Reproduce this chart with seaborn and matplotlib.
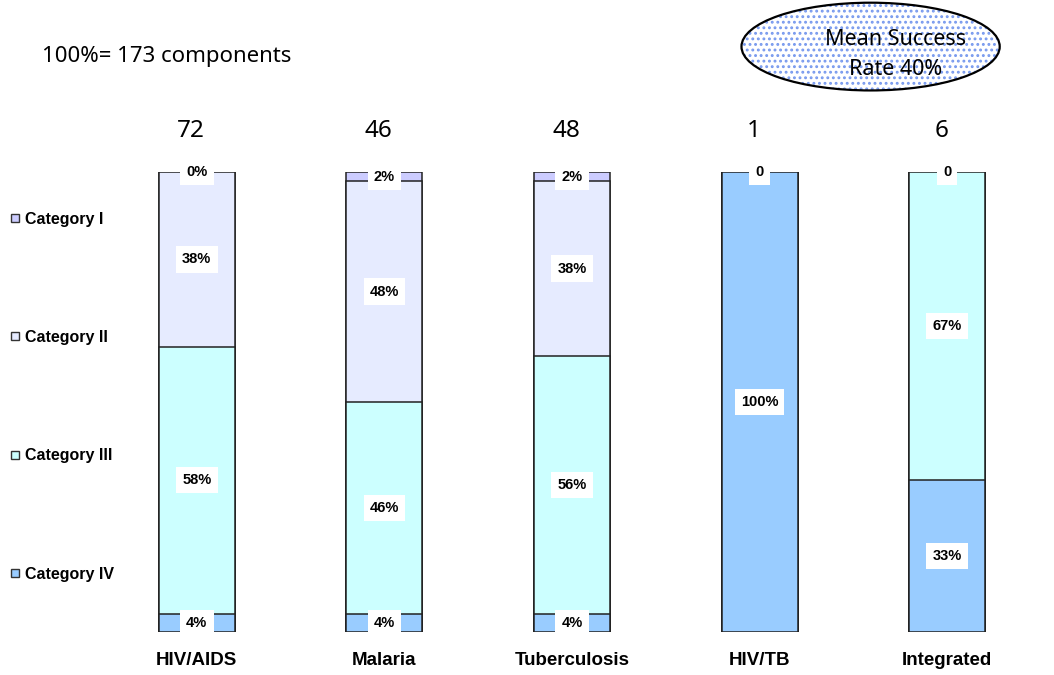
import matplotlib
matplotlib.use("Agg")
import matplotlib.pyplot as plt
from matplotlib.patches import Ellipse
from matplotlib.lines import Line2D
import numpy as np
import pandas as pd
import seaborn as sns

programs = ["HIV/AIDS", "Malaria", "Tuberculosis", "HIV/TB", "Integrated"]
counts = [72, 46, 48, 1, 6]
categories = ["Category I", "Category II", "Category III", "Category IV"]

# percent share of each category per program
cat_i = [0, 2, 2, 0, 0]
cat_ii = [38, 48, 38, 0, 0]
cat_iii = [58, 46, 56, 0, 67]
cat_iv = [4, 4, 4, 100, 33]

# text shown on each segment ('' = no label)
lab_i = ["0%", "2%", "2%", "0", "0"]
lab_ii = ["38%", "48%", "38%", "", ""]
lab_iii = ["58%", "46%", "56%", "", "67%"]
lab_iv = ["4%", "4%", "4%", "100%", "33%"]

colors = ["#CCCCFF", "#E6EBFF", "#CCFFFF", "#99CCFF"]

total_components = 173
mean_success = 40

sns.set_theme(style="white")
plt.rcParams["font.family"] = ["Liberation Sans", "DejaVu Sans"]
plt.rcParams["text.color"] = "black"
plt.rcParams["xtick.color"] = "black"
plt.rcParams["hatch.linewidth"] = 1.3

fig = plt.figure(figsize=(10.54, 6.75), dpi=100)
ax = fig.add_axes([0.0977, 0.0637, 0.890, 0.6815])

shares = np.array([cat_i, cat_ii, cat_iii, cat_iv], dtype=float)  # top to bottom
labels = [lab_i, lab_ii, lab_iii, lab_iv]
# cumulative heights from the bottom segment up
cum_top = np.cumsum(shares[::-1], axis=0)[::-1]  # row k: top of segment k
cum_bottom = cum_top - shares

# draw from the tallest stack down so lower segments overlay upper ones
for k in range(4):
    df = pd.DataFrame({"program": programs, "value": cum_top[k]})
    sns.barplot(data=df, x="program", y="value", order=programs, color=colors[k],
                saturation=1, width=0.405, edgecolor="#222222", linewidth=1.1, ax=ax)

for k in range(4):
    for j in range(len(programs)):
        txt = labels[k][j]
        if not txt:
            continue
        y = (cum_top[k][j] + cum_bottom[k][j]) / 2
        ax.text(j, y, txt, ha="center", va="center", fontsize=10.5, fontweight="bold",
                color="black", zorder=5,
                bbox=dict(boxstyle="square,pad=0.42", fc="white", ec="none"))

ax.set_ylim(0, 100)
ax.set_xlim(-0.5, len(programs) - 0.5)
ax.set_xlabel("")
ax.set_ylabel("")
ax.set_yticks([])
ax.tick_params(axis="x", length=0, pad=14.5)
for t in ax.get_xticklabels():
    t.set_fontweight("bold")
    t.set_fontsize(13.5)
for s in ax.spines.values():
    s.set_visible(False)

# component counts above each bar
for j, c in enumerate(counts):
    ax.text(j - 0.03, 107.6, str(c), ha="center", va="baseline", fontsize=17.5,
            family=["Noto Sans", "DejaVu Sans"], clip_on=False)

# legend down the left side
handles = [Line2D([0], [0], marker="s", linestyle="none", markersize=6,
                  markerfacecolor=colors[k], markeredgecolor="#333333", markeredgewidth=1)
           for k in range(4)]
leg = fig.legend(handles, categories, loc="upper left", bbox_to_anchor=(0.002, 0.696),
                 frameon=False, labelspacing=6.47, handlelength=0.8, handletextpad=0.25,
                 borderaxespad=0, prop={"size": 11.5, "weight": "bold"})

fig.text(0.040, 1 - 62 / 675, f"100%= {total_components} components", fontsize=16,
         va="baseline", family=["Noto Sans", "DejaVu Sans"])

# mean success badge
badge_fill = Ellipse((0.826, 0.931), 0.245, 0.130, transform=fig.transFigure,
                     facecolor="white", edgecolor="#7799EE", hatch="...", linewidth=0)
badge_edge = Ellipse((0.826, 0.931), 0.245, 0.130, transform=fig.transFigure,
                     facecolor="none", edgecolor="black", linewidth=1.6)
fig.add_artist(badge_fill)
fig.add_artist(badge_edge)
fig.text(0.850, 1 - 45 / 675, "Mean Success", ha="center", va="baseline",
         fontsize=15.5, family=["Noto Sans", "DejaVu Sans"])
fig.text(0.850, 1 - 75 / 675, f"Rate {mean_success}%", ha="center", va="baseline",
         fontsize=15.5, family=["Noto Sans", "DejaVu Sans"])

fig.savefig("out.png", dpi=100)
